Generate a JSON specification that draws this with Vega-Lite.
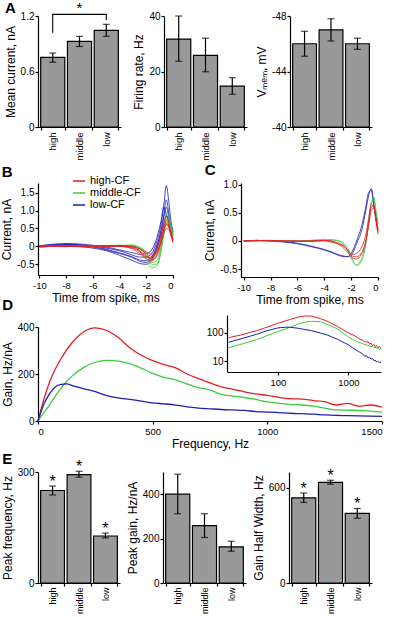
{
"$schema":"https://vega.github.io/schema/vega-lite/v6.json",
"padding":{"left":0,"top":0,"right":2,"bottom":0},
"config":{
 "font":"Liberation Sans",
 "view":{"stroke":null},
 "axis":{"grid":false,"domainColor":"black","tickColor":"black","labelColor":"black","titleColor":"black","labelFontSize":10,"titleFontSize":12,"titleFontWeight":"normal","tickSize":3,"domainWidth":1.2,"tickWidth":1.2,"labelFont":"Liberation Sans","titleFont":"Liberation Sans","titlePadding":3,"labelPadding":1},
 "axisX":{"labelFontSize":9.5,"labelPadding":2},
 "title":{"fontSize":15,"fontWeight":"bold","anchor":"start","dx":1,"color":"black","font":"Liberation Sans"},
 "legend":{"labelFont":"Liberation Sans"}
},
"spacing":2,
"resolve":{"scale":{"color":"independent"},"legend":{"color":"independent"}},
"vconcat":[
{"hconcat":[
 {"width":83,"height":111,"title":{"text":"A","offset":-15},
  "layer":[
   {"data":{"values":[{"c":"high","m":0.752,"lo":0.70,"hi":0.80},{"c":"middle","m":0.925,"lo":0.87,"hi":0.98},{"c":"low","m":1.045,"lo":0.98,"hi":1.11}]},
    "layer":[
     {"mark":{"type":"bar","fill":"#999999","stroke":"black","strokeWidth":1.2},
      "encoding":{"x":{"field":"c","type":"nominal","scale":{"domain":["high","middle","low"],"paddingInner":0.1,"paddingOuter":0.1},"axis":{"title":null,"labelAngle":-90,"tickBand":"extent"}},
       "y":{"field":"m","type":"quantitative","scale":{"domain":[0,1.2],"nice":false},"axis":{"values":[0,0.6,1.2],"labelExpr":"'' + datum.value","title":"Mean current, nA"}}}},
     {"mark":{"type":"errorbar","ticks":{"size":7},"color":"black","thickness":1.2},
      "encoding":{"x":{"field":"c","type":"nominal"},"y":{"field":"lo","type":"quantitative","title":"Mean current, nA"},"y2":{"field":"hi"}}}
    ]},
   {"data":{"values":[{"c":"high","y":1.02,"o":1},{"c":"high","y":1.218,"o":2},{"c":"low","y":1.218,"o":3},{"c":"low","y":1.157,"o":4}]},
    "mark":{"type":"line","color":"black","strokeWidth":1.1},
    "encoding":{"x":{"field":"c","type":"nominal"},"y":{"field":"y","type":"quantitative","title":"Mean current, nA"},"order":{"field":"o"}}},
   {"data":{"values":[{"c":"middle","y":1.29,"s":"*"}]},
    "mark":{"type":"text","fontSize":15,"baseline":"middle","color":"black"},
    "encoding":{"x":{"field":"c","type":"nominal"},"y":{"field":"y","type":"quantitative","title":"Mean current, nA"},"text":{"field":"s"}}}
  ]},
 {"width":83,"height":111,
  "data":{"values":[{"c":"high","m":31.7,"lo":23.7,"hi":40},{"c":"middle","m":25.8,"lo":19.9,"hi":32},{"c":"low","m":14.7,"lo":11.8,"hi":17.8}]},
  "layer":[
   {"mark":{"type":"bar","fill":"#999999","stroke":"black","strokeWidth":1.2},
    "encoding":{"x":{"field":"c","type":"nominal","scale":{"domain":["high","middle","low"],"paddingInner":0.1,"paddingOuter":0.1},"axis":{"title":null,"labelAngle":-90,"tickBand":"extent"}},
     "y":{"field":"m","type":"quantitative","scale":{"domain":[0,40],"nice":false},"axis":{"values":[0,20,40],"title":"Firing rate, Hz"}}}},
   {"mark":{"type":"errorbar","ticks":{"size":7},"color":"black","thickness":1.2},
    "encoding":{"x":{"field":"c","type":"nominal"},"y":{"field":"lo","type":"quantitative","title":"Firing rate, Hz"},"y2":{"field":"hi"}}}
  ]},
 {"width":82,"height":111,
  "data":{"values":[{"c":"high","m":-46,"lo":-45.1,"hi":-46.9},{"c":"middle","m":-47,"lo":-46.2,"hi":-47.8},{"c":"low","m":-46,"lo":-45.6,"hi":-46.4}]},
  "layer":[
   {"mark":{"type":"bar","fill":"#999999","stroke":"black","strokeWidth":1.2},
    "encoding":{"x":{"field":"c","type":"nominal","scale":{"domain":["high","middle","low"],"paddingInner":0.1,"paddingOuter":0.1},"axis":{"title":null,"labelAngle":-90,"tickBand":"extent"}},
     "y":{"field":"m","type":"quantitative","scale":{"domain":[-40,-48],"nice":false,"zero":false},"axis":{"values":[-40,-44,-48],"labelExpr":"'' + datum.value","title":"Vₘₑₘ, mV"}},
     "y2":{"datum":-40}}},
   {"mark":{"type":"errorbar","ticks":{"size":7},"color":"black","thickness":1.2},
    "encoding":{"x":{"field":"c","type":"nominal"},"y":{"field":"lo","type":"quantitative","title":"Vₘₑₘ, mV"},"y2":{"field":"hi"}}}
  ]}
],"spacing":43,"bounds":"flush"},
{"vconcat":[
{"hconcat":[
 {"width":135,"height":92,"title":{"text":"B","offset":-6},
  "data":{"values":[
{"g":"low-CF","k":"b1","t":-10,"v":0},{"g":"low-CF","k":"b1","t":-8,"v":0.05},{"g":"low-CF","k":"b1","t":-6,"v":0},{"g":"low-CF","k":"b1","t":-5,"v":-0.08},{"g":"low-CF","k":"b1","t":-4,"v":-0.18},{"g":"low-CF","k":"b1","t":-3,"v":-0.3},{"g":"low-CF","k":"b1","t":-2.5,"v":-0.38},{"g":"low-CF","k":"b1","t":-2,"v":-0.4},{"g":"low-CF","k":"b1","t":-1.6,"v":-0.3},{"g":"low-CF","k":"b1","t":-1.2,"v":0.05},{"g":"low-CF","k":"b1","t":-0.9,"v":0.4},{"g":"low-CF","k":"b1","t":-0.7,"v":0.8},{"g":"low-CF","k":"b1","t":-0.5,"v":1.1},{"g":"low-CF","k":"b1","t":-0.3,"v":0.8},{"g":"low-CF","k":"b1","t":-0.15,"v":0.55},{"g":"low-CF","k":"b1","t":0,"v":0.35},
{"g":"low-CF","k":"b2","t":-10,"v":0.01},{"g":"low-CF","k":"b2","t":-8,"v":0.08},{"g":"low-CF","k":"b2","t":-6,"v":0.03},{"g":"low-CF","k":"b2","t":-5,"v":-0.05},{"g":"low-CF","k":"b2","t":-4,"v":-0.12},{"g":"low-CF","k":"b2","t":-3,"v":-0.25},{"g":"low-CF","k":"b2","t":-2.5,"v":-0.3},{"g":"low-CF","k":"b2","t":-2,"v":-0.3},{"g":"low-CF","k":"b2","t":-1.6,"v":-0.2},{"g":"low-CF","k":"b2","t":-1.2,"v":0.15},{"g":"low-CF","k":"b2","t":-0.9,"v":0.6},{"g":"low-CF","k":"b2","t":-0.7,"v":1.1},{"g":"low-CF","k":"b2","t":-0.5,"v":1.7},{"g":"low-CF","k":"b2","t":-0.3,"v":1.2},{"g":"low-CF","k":"b2","t":-0.15,"v":0.7},{"g":"low-CF","k":"b2","t":0,"v":0.45},
{"g":"low-CF","k":"b3","t":-10,"v":-0.02},{"g":"low-CF","k":"b3","t":-8,"v":0.02},{"g":"low-CF","k":"b3","t":-6,"v":-0.05},{"g":"low-CF","k":"b3","t":-5,"v":-0.12},{"g":"low-CF","k":"b3","t":-4,"v":-0.25},{"g":"low-CF","k":"b3","t":-3,"v":-0.4},{"g":"low-CF","k":"b3","t":-2.5,"v":-0.48},{"g":"low-CF","k":"b3","t":-2,"v":-0.5},{"g":"low-CF","k":"b3","t":-1.6,"v":-0.4},{"g":"low-CF","k":"b3","t":-1.2,"v":-0.05},{"g":"low-CF","k":"b3","t":-0.9,"v":0.3},{"g":"low-CF","k":"b3","t":-0.7,"v":0.6},{"g":"low-CF","k":"b3","t":-0.5,"v":0.85},{"g":"low-CF","k":"b3","t":-0.3,"v":0.65},{"g":"low-CF","k":"b3","t":-0.15,"v":0.45},{"g":"low-CF","k":"b3","t":0,"v":0.3},
{"g":"low-CF","k":"b4","t":-10,"v":0},{"g":"low-CF","k":"b4","t":-8,"v":0.04},{"g":"low-CF","k":"b4","t":-6,"v":0.02},{"g":"low-CF","k":"b4","t":-5,"v":-0.02},{"g":"low-CF","k":"b4","t":-4,"v":-0.1},{"g":"low-CF","k":"b4","t":-3,"v":-0.18},{"g":"low-CF","k":"b4","t":-2.5,"v":-0.22},{"g":"low-CF","k":"b4","t":-2,"v":-0.2},{"g":"low-CF","k":"b4","t":-1.6,"v":-0.1},{"g":"low-CF","k":"b4","t":-1.2,"v":0.25},{"g":"low-CF","k":"b4","t":-0.9,"v":0.7},{"g":"low-CF","k":"b4","t":-0.7,"v":1.1},{"g":"low-CF","k":"b4","t":-0.5,"v":0.9},{"g":"low-CF","k":"b4","t":-0.3,"v":0.7},{"g":"low-CF","k":"b4","t":-0.15,"v":0.5},{"g":"low-CF","k":"b4","t":0,"v":0.4},
{"g":"low-CF","k":"b5","t":-10,"v":0.02},{"g":"low-CF","k":"b5","t":-8,"v":0.06},{"g":"low-CF","k":"b5","t":-6,"v":-0.02},{"g":"low-CF","k":"b5","t":-5,"v":-0.1},{"g":"low-CF","k":"b5","t":-4,"v":-0.2},{"g":"low-CF","k":"b5","t":-3,"v":-0.32},{"g":"low-CF","k":"b5","t":-2.5,"v":-0.42},{"g":"low-CF","k":"b5","t":-2,"v":-0.45},{"g":"low-CF","k":"b5","t":-1.6,"v":-0.35},{"g":"low-CF","k":"b5","t":-1.2,"v":0},{"g":"low-CF","k":"b5","t":-0.9,"v":0.45},{"g":"low-CF","k":"b5","t":-0.7,"v":0.85},{"g":"low-CF","k":"b5","t":-0.5,"v":1.3},{"g":"low-CF","k":"b5","t":-0.3,"v":0.9},{"g":"low-CF","k":"b5","t":-0.15,"v":0.6},{"g":"low-CF","k":"b5","t":0,"v":0.4},
{"g":"middle-CF","k":"g1","t":-10,"v":0},{"g":"middle-CF","k":"g1","t":-8,"v":0},{"g":"middle-CF","k":"g1","t":-6,"v":0.01},{"g":"middle-CF","k":"g1","t":-5,"v":0},{"g":"middle-CF","k":"g1","t":-4,"v":0.02},{"g":"middle-CF","k":"g1","t":-3,"v":0.02},{"g":"middle-CF","k":"g1","t":-2.5,"v":-0.05},{"g":"middle-CF","k":"g1","t":-2,"v":-0.25},{"g":"middle-CF","k":"g1","t":-1.6,"v":-0.45},{"g":"middle-CF","k":"g1","t":-1.2,"v":-0.4},{"g":"middle-CF","k":"g1","t":-0.9,"v":-0.05},{"g":"middle-CF","k":"g1","t":-0.7,"v":0.4},{"g":"middle-CF","k":"g1","t":-0.5,"v":0.8},{"g":"middle-CF","k":"g1","t":-0.3,"v":0.7},{"g":"middle-CF","k":"g1","t":-0.15,"v":0.5},{"g":"middle-CF","k":"g1","t":0,"v":0.3},
{"g":"middle-CF","k":"g2","t":-10,"v":0.01},{"g":"middle-CF","k":"g2","t":-8,"v":0},{"g":"middle-CF","k":"g2","t":-6,"v":0},{"g":"middle-CF","k":"g2","t":-5,"v":0.01},{"g":"middle-CF","k":"g2","t":-4,"v":0.03},{"g":"middle-CF","k":"g2","t":-3,"v":0},{"g":"middle-CF","k":"g2","t":-2.5,"v":-0.12},{"g":"middle-CF","k":"g2","t":-2,"v":-0.35},{"g":"middle-CF","k":"g2","t":-1.6,"v":-0.6},{"g":"middle-CF","k":"g2","t":-1.2,"v":-0.55},{"g":"middle-CF","k":"g2","t":-0.9,"v":-0.15},{"g":"middle-CF","k":"g2","t":-0.7,"v":0.3},{"g":"middle-CF","k":"g2","t":-0.5,"v":0.75},{"g":"middle-CF","k":"g2","t":-0.3,"v":0.8},{"g":"middle-CF","k":"g2","t":-0.15,"v":0.55},{"g":"middle-CF","k":"g2","t":0,"v":0.35},
{"g":"middle-CF","k":"g3","t":-10,"v":-0.01},{"g":"middle-CF","k":"g3","t":-8,"v":0.01},{"g":"middle-CF","k":"g3","t":-6,"v":0},{"g":"middle-CF","k":"g3","t":-5,"v":0},{"g":"middle-CF","k":"g3","t":-4,"v":0.01},{"g":"middle-CF","k":"g3","t":-3,"v":0.01},{"g":"middle-CF","k":"g3","t":-2.5,"v":-0.05},{"g":"middle-CF","k":"g3","t":-2,"v":-0.2},{"g":"middle-CF","k":"g3","t":-1.6,"v":-0.38},{"g":"middle-CF","k":"g3","t":-1.2,"v":-0.3},{"g":"middle-CF","k":"g3","t":-0.9,"v":0},{"g":"middle-CF","k":"g3","t":-0.7,"v":0.35},{"g":"middle-CF","k":"g3","t":-0.5,"v":0.6},{"g":"middle-CF","k":"g3","t":-0.3,"v":0.6},{"g":"middle-CF","k":"g3","t":-0.15,"v":0.45},{"g":"middle-CF","k":"g3","t":0,"v":0.28},
{"g":"middle-CF","k":"g4","t":-10,"v":0},{"g":"middle-CF","k":"g4","t":-8,"v":0},{"g":"middle-CF","k":"g4","t":-6,"v":0.02},{"g":"middle-CF","k":"g4","t":-5,"v":0.01},{"g":"middle-CF","k":"g4","t":-4,"v":0.02},{"g":"middle-CF","k":"g4","t":-3,"v":0.04},{"g":"middle-CF","k":"g4","t":-2.5,"v":-0.02},{"g":"middle-CF","k":"g4","t":-2,"v":-0.18},{"g":"middle-CF","k":"g4","t":-1.6,"v":-0.5},{"g":"middle-CF","k":"g4","t":-1.2,"v":-0.5},{"g":"middle-CF","k":"g4","t":-0.9,"v":-0.1},{"g":"middle-CF","k":"g4","t":-0.7,"v":0.45},{"g":"middle-CF","k":"g4","t":-0.5,"v":0.95},{"g":"middle-CF","k":"g4","t":-0.3,"v":0.85},{"g":"middle-CF","k":"g4","t":-0.15,"v":0.6},{"g":"middle-CF","k":"g4","t":0,"v":0.4},
{"g":"high-CF","k":"r1","t":-10,"v":0},{"g":"high-CF","k":"r1","t":-8,"v":0.01},{"g":"high-CF","k":"r1","t":-6,"v":0},{"g":"high-CF","k":"r1","t":-5,"v":0.01},{"g":"high-CF","k":"r1","t":-4,"v":0.03},{"g":"high-CF","k":"r1","t":-3,"v":0},{"g":"high-CF","k":"r1","t":-2.5,"v":-0.08},{"g":"high-CF","k":"r1","t":-2,"v":-0.2},{"g":"high-CF","k":"r1","t":-1.6,"v":-0.28},{"g":"high-CF","k":"r1","t":-1.2,"v":-0.15},{"g":"high-CF","k":"r1","t":-0.9,"v":0.2},{"g":"high-CF","k":"r1","t":-0.7,"v":0.5},{"g":"high-CF","k":"r1","t":-0.5,"v":0.72},{"g":"high-CF","k":"r1","t":-0.3,"v":0.55},{"g":"high-CF","k":"r1","t":-0.15,"v":0.35},{"g":"high-CF","k":"r1","t":0,"v":0.15},
{"g":"high-CF","k":"r2","t":-10,"v":0.01},{"g":"high-CF","k":"r2","t":-8,"v":0},{"g":"high-CF","k":"r2","t":-6,"v":-0.02},{"g":"high-CF","k":"r2","t":-5,"v":0},{"g":"high-CF","k":"r2","t":-4,"v":0.02},{"g":"high-CF","k":"r2","t":-3,"v":-0.03},{"g":"high-CF","k":"r2","t":-2.5,"v":-0.12},{"g":"high-CF","k":"r2","t":-2,"v":-0.28},{"g":"high-CF","k":"r2","t":-1.6,"v":-0.35},{"g":"high-CF","k":"r2","t":-1.2,"v":-0.2},{"g":"high-CF","k":"r2","t":-0.9,"v":0.15},{"g":"high-CF","k":"r2","t":-0.7,"v":0.45},{"g":"high-CF","k":"r2","t":-0.5,"v":0.6},{"g":"high-CF","k":"r2","t":-0.3,"v":0.5},{"g":"high-CF","k":"r2","t":-0.15,"v":0.3},{"g":"high-CF","k":"r2","t":0,"v":0.1},
{"g":"high-CF","k":"r3","t":-10,"v":-0.02},{"g":"high-CF","k":"r3","t":-8,"v":0.02},{"g":"high-CF","k":"r3","t":-6,"v":0.01},{"g":"high-CF","k":"r3","t":-5,"v":0.02},{"g":"high-CF","k":"r3","t":-4,"v":0},{"g":"high-CF","k":"r3","t":-3,"v":-0.05},{"g":"high-CF","k":"r3","t":-2.5,"v":-0.15},{"g":"high-CF","k":"r3","t":-2,"v":-0.3},{"g":"high-CF","k":"r3","t":-1.6,"v":-0.32},{"g":"high-CF","k":"r3","t":-1.2,"v":-0.1},{"g":"high-CF","k":"r3","t":-0.9,"v":0.3},{"g":"high-CF","k":"r3","t":-0.7,"v":0.65},{"g":"high-CF","k":"r3","t":-0.5,"v":0.85},{"g":"high-CF","k":"r3","t":-0.3,"v":0.6},{"g":"high-CF","k":"r3","t":-0.15,"v":0.4},{"g":"high-CF","k":"r3","t":0,"v":0.2},
{"g":"high-CF","k":"r4","t":-10,"v":0},{"g":"high-CF","k":"r4","t":-8,"v":-0.01},{"g":"high-CF","k":"r4","t":-6,"v":0.02},{"g":"high-CF","k":"r4","t":-5,"v":0},{"g":"high-CF","k":"r4","t":-4,"v":0.01},{"g":"high-CF","k":"r4","t":-3,"v":-0.02},{"g":"high-CF","k":"r4","t":-2.5,"v":-0.06},{"g":"high-CF","k":"r4","t":-2,"v":-0.15},{"g":"high-CF","k":"r4","t":-1.6,"v":-0.22},{"g":"high-CF","k":"r4","t":-1.2,"v":-0.12},{"g":"high-CF","k":"r4","t":-0.9,"v":0.1},{"g":"high-CF","k":"r4","t":-0.7,"v":0.35},{"g":"high-CF","k":"r4","t":-0.5,"v":0.5},{"g":"high-CF","k":"r4","t":-0.3,"v":0.45},{"g":"high-CF","k":"r4","t":-0.15,"v":0.3},{"g":"high-CF","k":"r4","t":0,"v":0.12},
{"g":"high-CF","k":"r5","t":-10,"v":0},{"g":"high-CF","k":"r5","t":-8,"v":0},{"g":"high-CF","k":"r5","t":-6,"v":0},{"g":"high-CF","k":"r5","t":-5,"v":-0.02},{"g":"high-CF","k":"r5","t":-4,"v":0},{"g":"high-CF","k":"r5","t":-3,"v":-0.08},{"g":"high-CF","k":"r5","t":-2.5,"v":-0.2},{"g":"high-CF","k":"r5","t":-2,"v":-0.35},{"g":"high-CF","k":"r5","t":-1.6,"v":-0.4},{"g":"high-CF","k":"r5","t":-1.2,"v":-0.25},{"g":"high-CF","k":"r5","t":-0.9,"v":0.1},{"g":"high-CF","k":"r5","t":-0.7,"v":0.45},{"g":"high-CF","k":"r5","t":-0.5,"v":0.65},{"g":"high-CF","k":"r5","t":-0.3,"v":0.55},{"g":"high-CF","k":"r5","t":-0.15,"v":0.38},{"g":"high-CF","k":"r5","t":0,"v":0.2}
  ]},
  "mark":{"type":"line","strokeWidth":0.8,"interpolate":"monotone"},
  "encoding":{
   "x":{"field":"t","type":"quantitative","scale":{"domain":[-10.1,0],"nice":false},"axis":{"values":[-10,-8,-6,-4,-2,0],"labelExpr":"'' + datum.value","title":"Time from spike, ms"}},
   "y":{"field":"v","type":"quantitative","scale":{"domain":[-0.8,1.77],"nice":false},"axis":{"values":[-0.5,0,0.5,1,1.5],"labelExpr":"datum.value == 0 ? '0' : (datum.value == 1 ? '1.0' : '' + datum.value)","title":"Current, nA"}},
   "color":{"field":"g","type":"nominal","scale":{"domain":["high-CF","middle-CF","low-CF"],"range":["#e31e24","#3ccc3c","#1e1eb4"]},
     "legend":{"orient":"none","legendX":34,"legendY":-9,"offset":0,"padding":0,"title":null,"symbolType":"stroke","symbolSize":150,"symbolStrokeWidth":1.5,"labelFontSize":11,"rowPadding":0,"labelColor":"black"}},
   "detail":{"field":"k"}
  }},
 {"width":137,"height":94,"title":{"text":"C","offset":2},
  "data":{"values":[
{"g":"low-CF","k":"cb1","t":-10,"v":0},{"g":"low-CF","k":"cb1","t":-9,"v":0.01},{"g":"low-CF","k":"cb1","t":-8,"v":0.01},{"g":"low-CF","k":"cb1","t":-7,"v":-0.01},{"g":"low-CF","k":"cb1","t":-6,"v":-0.04},{"g":"low-CF","k":"cb1","t":-5,"v":-0.09},{"g":"low-CF","k":"cb1","t":-4,"v":-0.15},{"g":"low-CF","k":"cb1","t":-3.5,"v":-0.19},{"g":"low-CF","k":"cb1","t":-3,"v":-0.24},{"g":"low-CF","k":"cb1","t":-2.5,"v":-0.27},{"g":"low-CF","k":"cb1","t":-2.2,"v":-0.28},{"g":"low-CF","k":"cb1","t":-1.9,"v":-0.22},{"g":"low-CF","k":"cb1","t":-1.6,"v":-0.05},{"g":"low-CF","k":"cb1","t":-1.2,"v":0.2},{"g":"low-CF","k":"cb1","t":-0.9,"v":0.55},{"g":"low-CF","k":"cb1","t":-0.7,"v":0.8},{"g":"low-CF","k":"cb1","t":-0.5,"v":0.93},{"g":"low-CF","k":"cb1","t":-0.3,"v":0.65},{"g":"low-CF","k":"cb1","t":-0.15,"v":0.4},{"g":"low-CF","k":"cb1","t":0,"v":0.2},
{"g":"low-CF","k":"cb2","t":-10,"v":0},{"g":"low-CF","k":"cb2","t":-9,"v":0.01},{"g":"low-CF","k":"cb2","t":-8,"v":0},{"g":"low-CF","k":"cb2","t":-7,"v":-0.02},{"g":"low-CF","k":"cb2","t":-6,"v":-0.05},{"g":"low-CF","k":"cb2","t":-5,"v":-0.1},{"g":"low-CF","k":"cb2","t":-4,"v":-0.16},{"g":"low-CF","k":"cb2","t":-3.5,"v":-0.2},{"g":"low-CF","k":"cb2","t":-3,"v":-0.25},{"g":"low-CF","k":"cb2","t":-2.5,"v":-0.28},{"g":"low-CF","k":"cb2","t":-2.2,"v":-0.27},{"g":"low-CF","k":"cb2","t":-1.9,"v":-0.18},{"g":"low-CF","k":"cb2","t":-1.6,"v":0},{"g":"low-CF","k":"cb2","t":-1.2,"v":0.28},{"g":"low-CF","k":"cb2","t":-0.9,"v":0.62},{"g":"low-CF","k":"cb2","t":-0.7,"v":0.86},{"g":"low-CF","k":"cb2","t":-0.5,"v":0.9},{"g":"low-CF","k":"cb2","t":-0.3,"v":0.6},{"g":"low-CF","k":"cb2","t":-0.15,"v":0.38},{"g":"low-CF","k":"cb2","t":0,"v":0.22},
{"g":"middle-CF","k":"cg1","t":-10,"v":0},{"g":"middle-CF","k":"cg1","t":-9,"v":0},{"g":"middle-CF","k":"cg1","t":-8,"v":0.01},{"g":"middle-CF","k":"cg1","t":-7,"v":0},{"g":"middle-CF","k":"cg1","t":-6,"v":0},{"g":"middle-CF","k":"cg1","t":-5,"v":0.01},{"g":"middle-CF","k":"cg1","t":-4,"v":0.02},{"g":"middle-CF","k":"cg1","t":-3.5,"v":0.02},{"g":"middle-CF","k":"cg1","t":-3,"v":0.01},{"g":"middle-CF","k":"cg1","t":-2.5,"v":-0.05},{"g":"middle-CF","k":"cg1","t":-2.2,"v":-0.15},{"g":"middle-CF","k":"cg1","t":-1.9,"v":-0.32},{"g":"middle-CF","k":"cg1","t":-1.6,"v":-0.44},{"g":"middle-CF","k":"cg1","t":-1.2,"v":-0.35},{"g":"middle-CF","k":"cg1","t":-0.9,"v":-0.05},{"g":"middle-CF","k":"cg1","t":-0.7,"v":0.3},{"g":"middle-CF","k":"cg1","t":-0.5,"v":0.65},{"g":"middle-CF","k":"cg1","t":-0.3,"v":0.78},{"g":"middle-CF","k":"cg1","t":-0.15,"v":0.55},{"g":"middle-CF","k":"cg1","t":0,"v":0.3},
{"g":"middle-CF","k":"cg2","t":-10,"v":0},{"g":"middle-CF","k":"cg2","t":-9,"v":0.01},{"g":"middle-CF","k":"cg2","t":-8,"v":0},{"g":"middle-CF","k":"cg2","t":-7,"v":0},{"g":"middle-CF","k":"cg2","t":-6,"v":0},{"g":"middle-CF","k":"cg2","t":-5,"v":0.01},{"g":"middle-CF","k":"cg2","t":-4,"v":0.02},{"g":"middle-CF","k":"cg2","t":-3.5,"v":0.02},{"g":"middle-CF","k":"cg2","t":-3,"v":0},{"g":"middle-CF","k":"cg2","t":-2.5,"v":-0.08},{"g":"middle-CF","k":"cg2","t":-2.2,"v":-0.2},{"g":"middle-CF","k":"cg2","t":-1.9,"v":-0.36},{"g":"middle-CF","k":"cg2","t":-1.6,"v":-0.42},{"g":"middle-CF","k":"cg2","t":-1.2,"v":-0.3},{"g":"middle-CF","k":"cg2","t":-0.9,"v":-0.02},{"g":"middle-CF","k":"cg2","t":-0.7,"v":0.33},{"g":"middle-CF","k":"cg2","t":-0.5,"v":0.68},{"g":"middle-CF","k":"cg2","t":-0.3,"v":0.72},{"g":"middle-CF","k":"cg2","t":-0.15,"v":0.5},{"g":"middle-CF","k":"cg2","t":0,"v":0.32},
{"g":"high-CF","k":"cr1","t":-10,"v":0},{"g":"high-CF","k":"cr1","t":-9,"v":0.01},{"g":"high-CF","k":"cr1","t":-8,"v":0},{"g":"high-CF","k":"cr1","t":-7,"v":0},{"g":"high-CF","k":"cr1","t":-6,"v":-0.01},{"g":"high-CF","k":"cr1","t":-5,"v":0},{"g":"high-CF","k":"cr1","t":-4,"v":0.01},{"g":"high-CF","k":"cr1","t":-3.5,"v":0},{"g":"high-CF","k":"cr1","t":-3,"v":-0.03},{"g":"high-CF","k":"cr1","t":-2.5,"v":-0.1},{"g":"high-CF","k":"cr1","t":-2.2,"v":-0.18},{"g":"high-CF","k":"cr1","t":-1.9,"v":-0.27},{"g":"high-CF","k":"cr1","t":-1.6,"v":-0.28},{"g":"high-CF","k":"cr1","t":-1.2,"v":-0.2},{"g":"high-CF","k":"cr1","t":-0.9,"v":0.02},{"g":"high-CF","k":"cr1","t":-0.7,"v":0.3},{"g":"high-CF","k":"cr1","t":-0.5,"v":0.6},{"g":"high-CF","k":"cr1","t":-0.3,"v":0.62},{"g":"high-CF","k":"cr1","t":-0.15,"v":0.4},{"g":"high-CF","k":"cr1","t":0,"v":0.15},
{"g":"high-CF","k":"cr2","t":-10,"v":0},{"g":"high-CF","k":"cr2","t":-9,"v":0},{"g":"high-CF","k":"cr2","t":-8,"v":0.01},{"g":"high-CF","k":"cr2","t":-7,"v":0},{"g":"high-CF","k":"cr2","t":-6,"v":0},{"g":"high-CF","k":"cr2","t":-5,"v":0},{"g":"high-CF","k":"cr2","t":-4,"v":0.01},{"g":"high-CF","k":"cr2","t":-3.5,"v":0},{"g":"high-CF","k":"cr2","t":-3,"v":-0.05},{"g":"high-CF","k":"cr2","t":-2.5,"v":-0.14},{"g":"high-CF","k":"cr2","t":-2.2,"v":-0.22},{"g":"high-CF","k":"cr2","t":-1.9,"v":-0.3},{"g":"high-CF","k":"cr2","t":-1.6,"v":-0.32},{"g":"high-CF","k":"cr2","t":-1.2,"v":-0.22},{"g":"high-CF","k":"cr2","t":-0.9,"v":0},{"g":"high-CF","k":"cr2","t":-0.7,"v":0.28},{"g":"high-CF","k":"cr2","t":-0.5,"v":0.55},{"g":"high-CF","k":"cr2","t":-0.3,"v":0.58},{"g":"high-CF","k":"cr2","t":-0.15,"v":0.4},{"g":"high-CF","k":"cr2","t":0,"v":0.18},
{"g":"high-CF","k":"cr3","t":-10,"v":0},{"g":"high-CF","k":"cr3","t":-9,"v":0.01},{"g":"high-CF","k":"cr3","t":-8,"v":0},{"g":"high-CF","k":"cr3","t":-7,"v":0},{"g":"high-CF","k":"cr3","t":-6,"v":0},{"g":"high-CF","k":"cr3","t":-5,"v":-0.01},{"g":"high-CF","k":"cr3","t":-4,"v":0},{"g":"high-CF","k":"cr3","t":-3.5,"v":-0.02},{"g":"high-CF","k":"cr3","t":-3,"v":-0.05},{"g":"high-CF","k":"cr3","t":-2.5,"v":-0.1},{"g":"high-CF","k":"cr3","t":-2.2,"v":-0.18},{"g":"high-CF","k":"cr3","t":-1.9,"v":-0.24},{"g":"high-CF","k":"cr3","t":-1.6,"v":-0.22},{"g":"high-CF","k":"cr3","t":-1.2,"v":-0.1},{"g":"high-CF","k":"cr3","t":-0.9,"v":0.12},{"g":"high-CF","k":"cr3","t":-0.7,"v":0.4},{"g":"high-CF","k":"cr3","t":-0.5,"v":0.65},{"g":"high-CF","k":"cr3","t":-0.3,"v":0.6},{"g":"high-CF","k":"cr3","t":-0.15,"v":0.35},{"g":"high-CF","k":"cr3","t":0,"v":0.12}
  ]},
  "mark":{"type":"line","strokeWidth":0.8,"interpolate":"monotone"},
  "encoding":{
   "x":{"field":"t","type":"quantitative","scale":{"domain":[-10.2,0],"nice":false},"axis":{"values":[-10,-8,-6,-4,-2,0],"labelExpr":"'' + datum.value","title":"Time from spike, ms"}},
   "y":{"field":"v","type":"quantitative","scale":{"domain":[-0.64,1.03],"nice":false},"axis":{"values":[-0.5,0,0.5,1],"labelExpr":"datum.value == 0 ? '0' : (datum.value == 1 ? '1.0' : '' + datum.value)","title":"Current, nA"}},
   "color":{"field":"g","type":"nominal","scale":{"domain":["high-CF","middle-CF","low-CF"],"range":["#e31e24","#3ccc3c","#1e1eb4"]},"legend":null},
   "detail":{"field":"k"}
  }}
],"spacing":68,"bounds":"flush","resolve":{"scale":{"color":"independent"},"legend":{"color":"independent"}}},
{"vconcat":[
{"width":344,"height":94,"title":{"text":"D","offset":1},
 "layer":[
  {"data":{"values":[
{"g":"high-CF","f":0,"v":0},{"g":"high-CF","f":25,"v":90},{"g":"high-CF","f":50,"v":165},{"g":"high-CF","f":75,"v":220},{"g":"high-CF","f":100,"v":265},{"g":"high-CF","f":150,"v":335},{"g":"high-CF","f":200,"v":380},{"g":"high-CF","f":250,"v":396},{"g":"high-CF","f":300,"v":385},{"g":"high-CF","f":350,"v":355},{"g":"high-CF","f":400,"v":312},{"g":"high-CF","f":450,"v":280},{"g":"high-CF","f":500,"v":257},{"g":"high-CF","f":550,"v":240},{"g":"high-CF","f":600,"v":226},{"g":"high-CF","f":650,"v":200},{"g":"high-CF","f":700,"v":180},{"g":"high-CF","f":750,"v":162},{"g":"high-CF","f":800,"v":145},{"g":"high-CF","f":850,"v":135},{"g":"high-CF","f":900,"v":124},{"g":"high-CF","f":950,"v":115},{"g":"high-CF","f":1000,"v":109},{"g":"high-CF","f":1050,"v":101},{"g":"high-CF","f":1100,"v":95},{"g":"high-CF","f":1150,"v":93},{"g":"high-CF","f":1200,"v":87},{"g":"high-CF","f":1250,"v":82},{"g":"high-CF","f":1300,"v":68},{"g":"high-CF","f":1350,"v":75},{"g":"high-CF","f":1400,"v":63},{"g":"high-CF","f":1450,"v":68},{"g":"high-CF","f":1500,"v":59},
{"g":"middle-CF","f":0,"v":0},{"g":"middle-CF","f":25,"v":35},{"g":"middle-CF","f":50,"v":68},{"g":"middle-CF","f":75,"v":105},{"g":"middle-CF","f":100,"v":140},{"g":"middle-CF","f":150,"v":192},{"g":"middle-CF","f":200,"v":228},{"g":"middle-CF","f":250,"v":250},{"g":"middle-CF","f":300,"v":258},{"g":"middle-CF","f":350,"v":255},{"g":"middle-CF","f":400,"v":244},{"g":"middle-CF","f":450,"v":225},{"g":"middle-CF","f":500,"v":203},{"g":"middle-CF","f":550,"v":186},{"g":"middle-CF","f":600,"v":175},{"g":"middle-CF","f":650,"v":158},{"g":"middle-CF","f":700,"v":142},{"g":"middle-CF","f":750,"v":132},{"g":"middle-CF","f":800,"v":113},{"g":"middle-CF","f":850,"v":106},{"g":"middle-CF","f":900,"v":100},{"g":"middle-CF","f":950,"v":92},{"g":"middle-CF","f":1000,"v":81},{"g":"middle-CF","f":1050,"v":76},{"g":"middle-CF","f":1100,"v":71},{"g":"middle-CF","f":1150,"v":68},{"g":"middle-CF","f":1200,"v":63},{"g":"middle-CF","f":1250,"v":55},{"g":"middle-CF","f":1300,"v":47},{"g":"middle-CF","f":1350,"v":46},{"g":"middle-CF","f":1400,"v":45},{"g":"middle-CF","f":1450,"v":42},{"g":"middle-CF","f":1500,"v":38},
{"g":"low-CF","f":0,"v":0},{"g":"low-CF","f":25,"v":70},{"g":"low-CF","f":50,"v":115},{"g":"low-CF","f":75,"v":145},{"g":"low-CF","f":100,"v":156},{"g":"low-CF","f":125,"v":158},{"g":"low-CF","f":150,"v":151},{"g":"low-CF","f":200,"v":137},{"g":"low-CF","f":250,"v":125},{"g":"low-CF","f":300,"v":108},{"g":"low-CF","f":350,"v":98},{"g":"low-CF","f":400,"v":92},{"g":"low-CF","f":450,"v":85},{"g":"low-CF","f":500,"v":77},{"g":"low-CF","f":550,"v":73},{"g":"low-CF","f":600,"v":68},{"g":"low-CF","f":650,"v":60},{"g":"low-CF","f":700,"v":55},{"g":"low-CF","f":750,"v":52},{"g":"low-CF","f":800,"v":49},{"g":"low-CF","f":850,"v":47},{"g":"low-CF","f":900,"v":45},{"g":"low-CF","f":950,"v":40},{"g":"low-CF","f":1000,"v":38},{"g":"low-CF","f":1050,"v":36},{"g":"low-CF","f":1100,"v":33},{"g":"low-CF","f":1150,"v":31},{"g":"low-CF","f":1200,"v":29},{"g":"low-CF","f":1250,"v":26},{"g":"low-CF","f":1300,"v":24},{"g":"low-CF","f":1350,"v":23},{"g":"low-CF","f":1400,"v":22},{"g":"low-CF","f":1450,"v":21},{"g":"low-CF","f":1500,"v":20}
  ]},
   "mark":{"type":"line","strokeWidth":1.3,"interpolate":"monotone"},
   "encoding":{
    "x":{"field":"f","type":"quantitative","scale":{"domain":[0,1500],"nice":false},"axis":{"values":[0,500,1000,1500],"format":"d","title":"Frequency, Hz"}},
    "y":{"field":"v","type":"quantitative","scale":{"domain":[0,400],"nice":false},"axis":{"values":[0,200,400],"title":"Gain, Hz/nA"}},
    "color":{"field":"g","type":"nominal","scale":{"domain":["high-CF","middle-CF","low-CF"],"range":["#e31e24","#3ccc3c","#1e1eb4"]},"legend":null}}},
  {"data":{"values":[
{"g":"high-CF","f":20,"v":68},{"g":"high-CF","f":30,"v":85},{"g":"high-CF","f":50,"v":120},{"g":"high-CF","f":70,"v":160},{"g":"high-CF","f":100,"v":220},{"g":"high-CF","f":150,"v":300},{"g":"high-CF","f":200,"v":370},{"g":"high-CF","f":250,"v":400},{"g":"high-CF","f":300,"v":390},{"g":"high-CF","f":400,"v":320},{"g":"high-CF","f":500,"v":260},{"g":"high-CF","f":700,"v":170},{"g":"high-CF","f":1000,"v":100},{"g":"high-CF","f":1200,"v":82},{"g":"high-CF","f":1400,"v":64},{"g":"high-CF","f":1500,"v":58},{"g":"high-CF","f":1600,"v":55},{"g":"high-CF","f":1700,"v":49},{"g":"high-CF","f":1800,"v":47},{"g":"high-CF","f":1900,"v":49},{"g":"high-CF","f":2000,"v":40},{"g":"high-CF","f":2100,"v":44},{"g":"high-CF","f":2200,"v":36},{"g":"high-CF","f":2300,"v":39},{"g":"high-CF","f":2400,"v":33},{"g":"high-CF","f":2500,"v":36},{"g":"high-CF","f":2600,"v":30},{"g":"high-CF","f":2750,"v":33},{"g":"high-CF","f":2900,"v":28},
{"g":"middle-CF","f":20,"v":30},{"g":"middle-CF","f":30,"v":40},{"g":"middle-CF","f":50,"v":58},{"g":"middle-CF","f":70,"v":80},{"g":"middle-CF","f":100,"v":112},{"g":"middle-CF","f":150,"v":160},{"g":"middle-CF","f":200,"v":215},{"g":"middle-CF","f":250,"v":245},{"g":"middle-CF","f":300,"v":258},{"g":"middle-CF","f":400,"v":250},{"g":"middle-CF","f":500,"v":200},{"g":"middle-CF","f":700,"v":140},{"g":"middle-CF","f":1000,"v":72},{"g":"middle-CF","f":1200,"v":56},{"g":"middle-CF","f":1400,"v":46},{"g":"middle-CF","f":1500,"v":44},{"g":"middle-CF","f":1600,"v":42},{"g":"middle-CF","f":1700,"v":39},{"g":"middle-CF","f":1800,"v":38},{"g":"middle-CF","f":1900,"v":36},{"g":"middle-CF","f":2000,"v":35},{"g":"middle-CF","f":2100,"v":33},{"g":"middle-CF","f":2200,"v":34},{"g":"middle-CF","f":2300,"v":30},{"g":"middle-CF","f":2400,"v":32},{"g":"middle-CF","f":2500,"v":28},{"g":"middle-CF","f":2600,"v":30},{"g":"middle-CF","f":2750,"v":26},{"g":"middle-CF","f":2900,"v":28},
{"g":"low-CF","f":20,"v":47},{"g":"low-CF","f":30,"v":62},{"g":"low-CF","f":50,"v":90},{"g":"low-CF","f":70,"v":120},{"g":"low-CF","f":100,"v":150},{"g":"low-CF","f":130,"v":160},{"g":"low-CF","f":150,"v":158},{"g":"low-CF","f":200,"v":145},{"g":"low-CF","f":300,"v":120},{"g":"low-CF","f":400,"v":100},{"g":"low-CF","f":500,"v":85},{"g":"low-CF","f":700,"v":60},{"g":"low-CF","f":1000,"v":38},{"g":"low-CF","f":1200,"v":28},{"g":"low-CF","f":1400,"v":22},{"g":"low-CF","f":1500,"v":20},{"g":"low-CF","f":1600,"v":18},{"g":"low-CF","f":1700,"v":15},{"g":"low-CF","f":1800,"v":16},{"g":"low-CF","f":1900,"v":13},{"g":"low-CF","f":2000,"v":14},{"g":"low-CF","f":2100,"v":12},{"g":"low-CF","f":2200,"v":12.5},{"g":"low-CF","f":2300,"v":10.5},{"g":"low-CF","f":2400,"v":11},{"g":"low-CF","f":2500,"v":9.5},{"g":"low-CF","f":2600,"v":10},{"g":"low-CF","f":2750,"v":9},{"g":"low-CF","f":2900,"v":9.5}
  ]},
   "mark":{"type":"line","strokeWidth":1},
   "encoding":{
    "x":{"field":"f","type":"quantitative","scale":{"type":"log","domain":[19,2900],"range":[189,343],"nice":false},"axis":{"orient":"bottom","offset":-49,"values":[100,1000],"format":"d","title":null}},
    "y":{"field":"v","type":"quantitative","scale":{"type":"log","domain":[4.3,430],"range":[44.7,-12],"nice":false},"axis":{"orient":"left","offset":-189,"values":[10,100],"format":"d","title":null}},
    "color":{"field":"g","type":"nominal","scale":{"domain":["high-CF","middle-CF","low-CF"],"range":["#e31e24","#3ccc3c","#1e1eb4"]},"legend":null}}}
 ],
 "resolve":{"scale":{"x":"independent","y":"independent"},"axis":{"x":"independent","y":"independent"}}
},
{"hconcat":[
 {"width":82,"height":111,"title":{"text":"E","offset":-8},
  "data":{"values":[{"c":"high","m":250,"lo":238,"hi":262,"s":"*"},{"c":"middle","m":293,"lo":286,"hi":302,"s":"*"},{"c":"low","m":127,"lo":122,"hi":135,"s":"*"}]},
  "layer":[
   {"mark":{"type":"bar","fill":"#999999","stroke":"black","strokeWidth":1.2},
    "encoding":{"x":{"field":"c","type":"nominal","scale":{"domain":["high","middle","low"],"paddingInner":0.1,"paddingOuter":0.1},"axis":{"title":null,"labelAngle":-90,"tickBand":"extent","labelFontSize":9,"labelPadding":1}},
     "y":{"field":"m","type":"quantitative","scale":{"domain":[0,300],"nice":false},"axis":{"values":[0,100,200,300],"title":"Peak frequency, Hz"}}}},
   {"mark":{"type":"errorbar","ticks":{"size":7},"color":"black","thickness":1.2},
    "encoding":{"x":{"field":"c","type":"nominal"},"y":{"field":"lo","type":"quantitative","title":"Peak frequency, Hz"},"y2":{"field":"hi"}}},
   {"mark":{"type":"text","fontSize":16,"baseline":"middle","dy":-4,"color":"black"},
    "encoding":{"x":{"field":"c","type":"nominal"},"y":{"field":"hi","type":"quantitative","title":"Peak frequency, Hz"},"text":{"field":"s"}}}
  ]},
 {"width":83,"height":111,
  "data":{"values":[{"c":"high","m":400,"lo":312,"hi":490},{"c":"middle","m":258,"lo":205,"hi":312},{"c":"low","m":163,"lo":143,"hi":188}]},
  "layer":[
   {"mark":{"type":"bar","fill":"#999999","stroke":"black","strokeWidth":1.2},
    "encoding":{"x":{"field":"c","type":"nominal","scale":{"domain":["high","middle","low"],"paddingInner":0.1,"paddingOuter":0.1},"axis":{"title":null,"labelAngle":-90,"tickBand":"extent","labelFontSize":9,"labelPadding":1}},
     "y":{"field":"m","type":"quantitative","scale":{"domain":[0,500],"nice":false},"axis":{"values":[0,100,200,300,400,500],"title":"Peak gain, Hz/nA"}}}},
   {"mark":{"type":"errorbar","ticks":{"size":7},"color":"black","thickness":1.2},
    "encoding":{"x":{"field":"c","type":"nominal"},"y":{"field":"lo","type":"quantitative","title":"Peak gain, Hz/nA"},"y2":{"field":"hi"}}}
  ]},
 {"width":83,"height":111,
  "data":{"values":[{"c":"high","m":537,"lo":508,"hi":568,"s":"*"},{"c":"middle","m":635,"lo":623,"hi":648,"s":"*"},{"c":"low","m":439,"lo":408,"hi":470,"s":"*"}]},
  "layer":[
   {"mark":{"type":"bar","fill":"#999999","stroke":"black","strokeWidth":1.2},
    "encoding":{"x":{"field":"c","type":"nominal","scale":{"domain":["high","middle","low"],"paddingInner":0.1,"paddingOuter":0.1},"axis":{"title":null,"labelAngle":-90,"tickBand":"extent","labelFontSize":9,"labelPadding":1}},
     "y":{"field":"m","type":"quantitative","scale":{"domain":[0,700],"nice":false},"axis":{"values":[0,200,400,600],"title":"Gain Half Width, Hz"}}}},
   {"mark":{"type":"errorbar","ticks":{"size":7},"color":"black","thickness":1.2},
    "encoding":{"x":{"field":"c","type":"nominal"},"y":{"field":"lo","type":"quantitative","title":"Gain Half Width, Hz"},"y2":{"field":"hi"}}},
   {"mark":{"type":"text","fontSize":16,"baseline":"middle","dy":-4,"color":"black"},
    "encoding":{"x":{"field":"c","type":"nominal"},"y":{"field":"hi","type":"quantitative","title":"Gain Half Width, Hz"},"text":{"field":"s"}}}
  ]}
],"spacing":43,"bounds":"flush"}
],"spacing":2,"resolve":{"scale":{"color":"independent"},"legend":{"color":"independent"}}}
],"spacing":-9,"resolve":{"scale":{"color":"independent"},"legend":{"color":"independent"}}}
]
}
